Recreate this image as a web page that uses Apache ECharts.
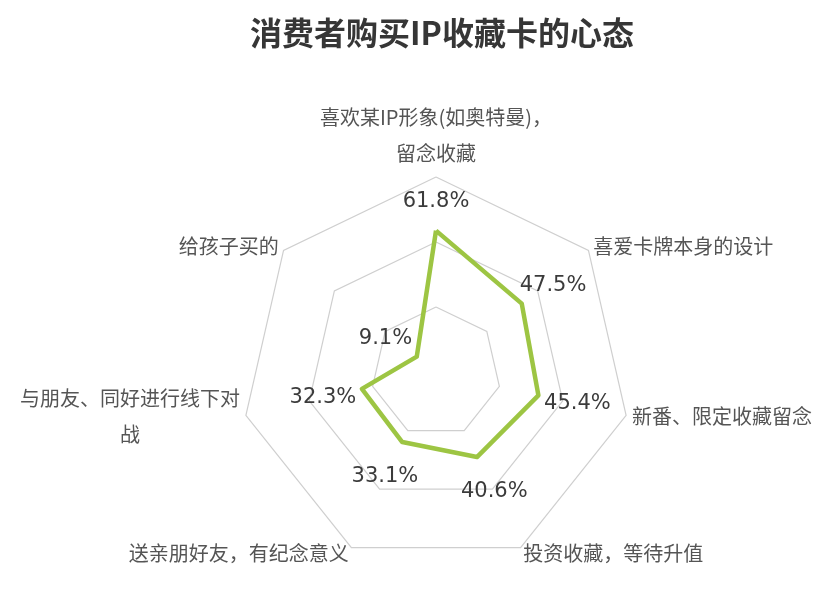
<!DOCTYPE html>
<html>
<head>
<meta charset="utf-8">
<script src="https://cdn.jsdelivr.net/npm/echarts@6/dist/echarts.min.js"></script>
<style>
html,body{margin:0;padding:0;background:#fff;}
#chart{width:831px;height:591px;}
</style>
</head>
<body>
<div id="chart"></div>
<script>
// Data in reference (clockwise from top) order
const titleText = '消费者购买IP收藏卡的心态';
const categories = [
  '喜欢某IP形象(如奥特曼)，\n留念收藏',
  '喜爱卡牌本身的设计',
  '新番、限定收藏留念',
  '投资收藏，等待升值',
  '送亲朋好友，有纪念意义',
  '与朋友、同好进行线下对\n战',
  '给孩子买的'
];
const values = [61.8, 47.5, 45.4, 40.6, 33.1, 32.3, 9.1];
const axisMin = -2;
const axisMax = 86;

// ECharts places indicators counter-clockwise; reorder so that they appear clockwise
const order = [0, 6, 5, 4, 3, 2, 1];
const ecCats = order.map(i => categories[i]);
const ecVals = order.map(i => values[i]);
const n = ecCats.length;

const chart = echarts.init(document.getElementById('chart'));

function nameFmt(name) {
  return name.split('\n').map(l => '{c|' + l + '}').join('\n');
}

const labelSeries = ecVals.map((v, k) => {
  const ang = Math.PI / 2 + k * 2 * Math.PI / n;
  const dx = Math.cos(ang), dy = -Math.sin(ang);
  const off = [dx * 40, dy * (dy < 0 ? 29 : 38)];
  return {
    type: 'radar',
    silent: true,
    z: 5,
    symbol: 'circle',
    symbolSize: 1,
    itemStyle: { color: 'rgba(0,0,0,0)' },
    lineStyle: { width: 0, opacity: 0 },
    label: {
      show: true,
      position: 'inside',
      offset: off,
      fontFamily: 'DejaVu Sans',
      fontSize: 21,
      color: '#3b3b3b',
      formatter: function (p) {
        let d = p.dimensionIndex;
        if (d == null) { d = (p.value === ecVals[k]) ? k : -1; }
        return d === k ? (ecVals[k] + '%') : '';
      }
    },
    data: [{ value: ecVals }]
  };
});

chart.setOption({
  backgroundColor: '#ffffff',
  animation: false,
  title: {
    text: titleText,
    left: 245,
    top: 12,
    textStyle: {
      fontFamily: 'Noto Sans CJK SC',
      fontSize: 32,
      fontWeight: 'bold',
      color: '#363636'
    }
  },
  radar: {
    center: [436, 372],
    radius: 195,
    startAngle: 90,
    splitNumber: 3,
    shape: 'polygon',
    indicator: ecCats.map(c => ({ name: c, min: axisMin, max: axisMax })),
    axisName: {
      formatter: nameFmt,
      color: '#555555',
      fontFamily: 'Noto Sans CJK SC',
      fontSize: 20,
      lineHeight: 36,
      rich: {
        c: { align: 'center', fontFamily: 'Noto Sans CJK SC', fontSize: 20, color: '#555555', lineHeight: 36 }
      }
    },
    nameGap: 6,
    axisLine: { show: false },
    axisTick: { show: false },
    axisLabel: { show: false },
    splitArea: { show: false },
    splitLine: { lineStyle: { color: '#cfcfcf', width: 1.2 } }
  },
  series: [
    {
      type: 'radar',
      z: 3,
      symbol: 'none',
      lineStyle: { color: '#9dc543', width: 4.5 },
      itemStyle: { color: '#9dc543' },
      data: [{ value: ecVals }]
    }
  ].concat(labelSeries)
});
</script>
</body>
</html>
